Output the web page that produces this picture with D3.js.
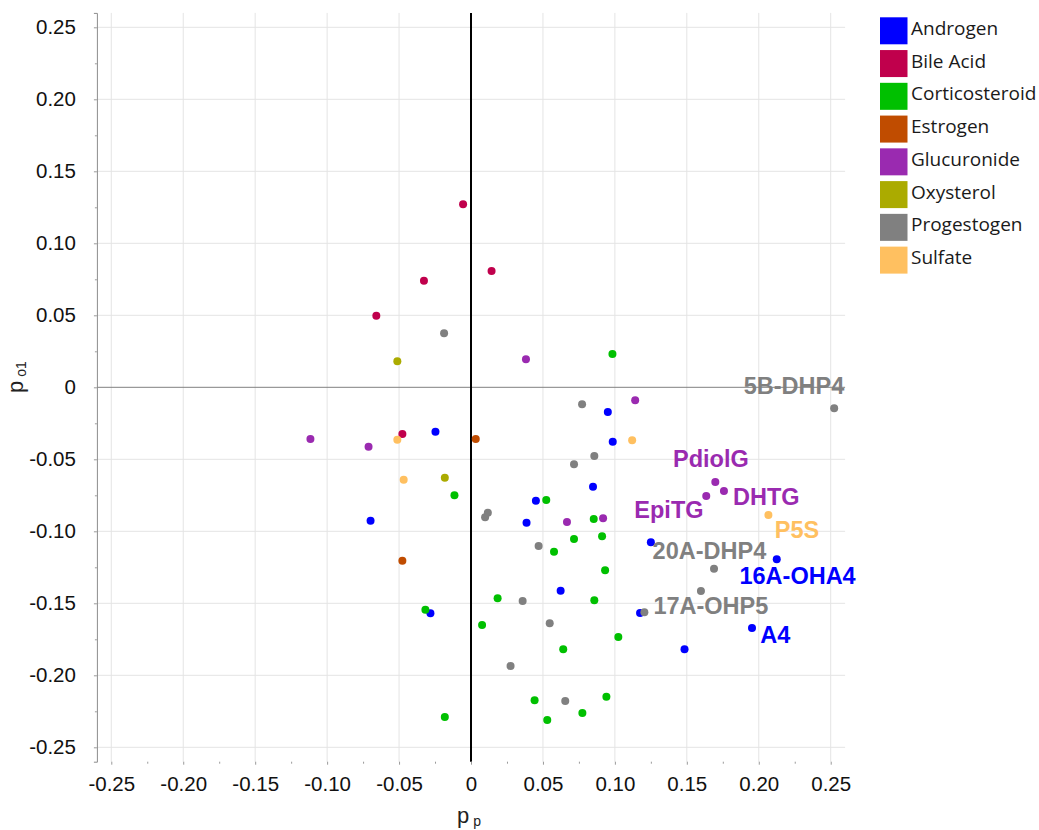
<!DOCTYPE html>
<html>
<head>
<meta charset="utf-8">
<script src="https://cdn.jsdelivr.net/npm/d3@7"></script>
<style>
  body { margin: 0; background: #ffffff; }
  svg { display: block; }
</style>
</head>
<body>
<svg id="chart" width="1039" height="830"></svg>
<script>
// Steroid classes and their colours
const categories = ["Androgen", "Bile Acid", "Corticosteroid", "Estrogen", "Glucuronide", "Oxysterol", "Progestogen", "Sulfate"];
const categoryColors = ["#0000ff", "#c0004c", "#00c000", "#c04c00", "#9a2ab0", "#abab00", "#808080", "#ffc060"];

// Loadings [p, p_o1] per class
const androgen = [
  [-0.0247, -0.0308], [-0.0698, -0.0926], [0.0451, -0.0788], [0.0386, -0.0940],
  [0.0951, -0.0172], [0.0985, -0.0378], [0.0848, -0.0690], [0.1250, -0.1076],
  [0.2125, -0.1194], [0.1175, -0.1567], [0.1953, -0.1672], [0.1484, -0.1819],
  [0.0623, -0.1413], [-0.0282, -0.1569]
];
const bileAcid = [
  [-0.0055, 0.1271], [0.0143, 0.0808], [-0.0327, 0.0740], [-0.0658, 0.0497], [-0.0477, -0.0324]
];
const corticosteroid = [
  [0.0983, 0.0231], [-0.0115, -0.0750], [0.0523, -0.0783], [0.0853, -0.0915],
  [0.0716, -0.1053], [0.0911, -0.1035], [0.0577, -0.1142], [0.0932, -0.1271],
  [0.0185, -0.1465], [0.0857, -0.1479], [-0.0317, -0.1544], [0.0077, -0.1651],
  [0.1024, -0.1734], [0.0641, -0.1819], [0.0442, -0.2174], [0.0941, -0.2149],
  [0.0774, -0.2262], [0.0530, -0.2310], [-0.0182, -0.2290]
];
const estrogen = [
  [0.0033, -0.0359], [-0.0477, -0.1204]
];
const glucuronide = [
  [0.0382, 0.0194], [-0.1116, -0.0359], [-0.0712, -0.0413], [0.1141, -0.0090],
  [0.0667, -0.0935], [0.0918, -0.0910], [0.1698, -0.0658], [0.1758, -0.0720],
  [0.1635, -0.0755]
];
const oxysterol = [
  [-0.0512, 0.0181], [-0.0182, -0.0628]
];
const progestogen = [
  [-0.0187, 0.0375], [0.0117, -0.0871], [0.0098, -0.0903], [0.0470, -0.1102],
  [0.0772, -0.0118], [0.0857, -0.0477], [0.0716, -0.0535], [0.2524, -0.0146],
  [0.1689, -0.1260], [0.1598, -0.1415], [0.1205, -0.1563], [0.0359, -0.1484],
  [0.0547, -0.1639], [0.0275, -0.1935], [0.0655, -0.2178]
];
const sulfate = [
  [-0.0512, -0.0364], [-0.0468, -0.0642], [0.1120, -0.0368], [0.2067, -0.0887]
];
const seriesByCategory = [androgen, bileAcid, corticosteroid, estrogen, glucuronide, oxysterol, progestogen, sulfate];

// Named compounds: [label, class, index within that class]
const namedPoints = [
  ["5B-DHP4", "Progestogen", 7],
  ["PdiolG", "Glucuronide", 6],
  ["DHTG", "Glucuronide", 7],
  ["EpiTG", "Glucuronide", 8],
  ["P5S", "Sulfate", 3],
  ["20A-DHP4", "Progestogen", 8],
  ["16A-OHA4", "Androgen", 8],
  ["17A-OHP5", "Progestogen", 10],
  ["A4", "Androgen", 10]
];

// Axis ticks
const tickValues = [-0.25, -0.20, -0.15, -0.10, -0.05, 0, 0.05, 0.10, 0.15, 0.20, 0.25];
const tickLabels = ["-0.25", "-0.20", "-0.15", "-0.10", "-0.05", "0", "0.05", "0.10", "0.15", "0.20", "0.25"];
const minorTickValues = [-0.225, -0.175, -0.125, -0.075, -0.025, 0.025, 0.075, 0.125, 0.175, 0.225];

// ---- layout ----
const plot = { left: 96.9, right: 845.1, top: 12.9, bottom: 761.7 };
const svg = d3.select("#chart");
const x = d3.scaleLinear().domain([-0.26, 0.26]).range([plot.left, plot.right]);
const y = d3.scaleLinear().domain([-0.26, 0.26]).range([plot.bottom, plot.top]);
const colorOf = d3.scaleOrdinal().domain(categories).range(categoryColors);
const labelOf = v => tickLabels[tickValues.findIndex(t => Math.abs(t - v) < 1e-9)];
const axisFont = "Liberation Sans, Arial, sans-serif";

// grid
const grid = svg.append("g");
grid.selectAll("line.v").data(tickValues.filter(v => v !== 0)).join("line")
  .attr("x1", d => x(d)).attr("x2", d => x(d))
  .attr("y1", plot.top).attr("y2", plot.bottom)
  .attr("stroke", "#e4e4e4").attr("stroke-width", 1);
grid.selectAll("line.h").data(tickValues.filter(v => v !== 0)).join("line")
  .attr("x1", plot.left).attr("x2", plot.right)
  .attr("y1", d => y(d)).attr("y2", d => y(d))
  .attr("stroke", "#e4e4e4").attr("stroke-width", 1);

// zero lines
svg.append("line")
  .attr("x1", plot.left).attr("x2", plot.right)
  .attr("y1", y(0)).attr("y2", y(0))
  .attr("stroke", "#808080").attr("stroke-width", 1);
svg.append("line")
  .attr("x1", x(0)).attr("x2", x(0))
  .attr("y1", plot.top).attr("y2", plot.bottom)
  .attr("stroke", "#000000").attr("stroke-width", 2);

// bottom axis (ticks only, no axis line)
const xAxis = svg.append("g").attr("transform", `translate(0,${plot.bottom})`)
  .call(d3.axisBottom(x).tickValues(tickValues).tickFormat(labelOf).tickSize(3).tickPadding(12));
xAxis.select(".domain").remove();
const xMinor = svg.append("g").attr("transform", `translate(0,${plot.bottom})`)
  .call(d3.axisBottom(x).tickValues(minorTickValues).tickFormat("").tickSize(2));
xMinor.select(".domain").remove();

// left axis
const yAxis = svg.append("g").attr("transform", `translate(${plot.left},0)`)
  .call(d3.axisLeft(y).tickValues(tickValues).tickFormat(labelOf).tickSize(3).tickPadding(18));
yAxis.select(".domain").attr("stroke", "#8c8c8c");
const yMinor = svg.append("g").attr("transform", `translate(${plot.left},0)`)
  .call(d3.axisLeft(y).tickValues(minorTickValues).tickFormat("").tickSize(2));
yMinor.select(".domain").remove();

[xAxis, yAxis].forEach(a => {
  a.selectAll("text").attr("font-family", axisFont).attr("font-size", "20.5px").attr("fill", "#111");
});
[xAxis, yAxis, xMinor, yMinor].forEach(a => a.selectAll(".tick line").attr("stroke", "#9a9a9a"));

// points
const points = [];
seriesByCategory.forEach((arr, ci) => arr.forEach((p, i) => points.push({ cat: categories[ci], i, px: p[0], py: p[1] })));
svg.append("g").selectAll("circle").data(points).join("circle")
  .attr("cx", d => x(d.px)).attr("cy", d => y(d.py)).attr("r", 4)
  .attr("fill", d => colorOf(d.cat));

// compound labels, placed relative to their point
const labelPlacement = {
  "5B-DHP4":  { dx: -90.4, dy: -14.3, anchor: "start" },
  "PdiolG":   { dx: -42.3, dy: -14.7, anchor: "start" },
  "DHTG":     { dx: 9.0,   dy: 14.0,  anchor: "start" },
  "EpiTG":    { dx: -2.7,  dy: 22.4,  anchor: "end" },
  "P5S":      { dx: 6.3,   dy: 23.3,  anchor: "start" },
  "20A-DHP4": { dx: -61.4, dy: -9.4,  anchor: "start" },
  "16A-OHA4": { dx: -37.3, dy: 25.0,  anchor: "start" },
  "17A-OHP5": { dx: 9.0,   dy: 1.4,   anchor: "start" },
  "A4":       { dx: 8.3,   dy: 14.7,  anchor: "start" }
};
svg.append("g").selectAll("text").data(namedPoints).join("text")
  .attr("x", d => x(seriesByCategory[categories.indexOf(d[1])][d[2]][0]) + labelPlacement[d[0]].dx)
  .attr("y", d => y(seriesByCategory[categories.indexOf(d[1])][d[2]][1]) + labelPlacement[d[0]].dy)
  .attr("text-anchor", d => labelPlacement[d[0]].anchor)
  .attr("font-family", axisFont).attr("font-weight", "bold").attr("font-size", "23.5px")
  .attr("fill", d => colorOf(d[1]))
  .text(d => d[0]);

// axis titles
const xTitle = svg.append("text")
  .attr("x", x(0) - 2).attr("y", 823).attr("text-anchor", "middle")
  .attr("font-family", axisFont).attr("font-size", "22px").attr("fill", "#222");
xTitle.append("tspan").text("p");
xTitle.append("tspan").attr("font-size", "14px").attr("dx", "4").attr("dy", "3").text("p");

const yTitle = svg.append("text")
  .attr("transform", "translate(23,377) rotate(-90)").attr("text-anchor", "middle")
  .attr("font-family", axisFont).attr("font-size", "22px").attr("fill", "#222");
yTitle.append("tspan").text("p");
yTitle.append("tspan").attr("font-size", "14px").attr("dx", "4").attr("dy", "3").text("o1");

// legend
const legend = svg.append("g").attr("transform", "translate(880,17.3)");
const item = legend.selectAll("g").data(categories).join("g")
  .attr("transform", (d, i) => `translate(0,${i * 32.76})`);
item.append("rect").attr("width", 27.5).attr("height", 27).attr("fill", d => colorOf(d));
item.append("text").attr("x", 31).attr("y", 17.6)
  .attr("font-family", "'Segoe UI', 'Open Sans', 'Noto Sans', sans-serif").attr("font-size", "19px")
  .attr("fill", "#1a1a1a").text(d => d);
</script>
</body>
</html>
